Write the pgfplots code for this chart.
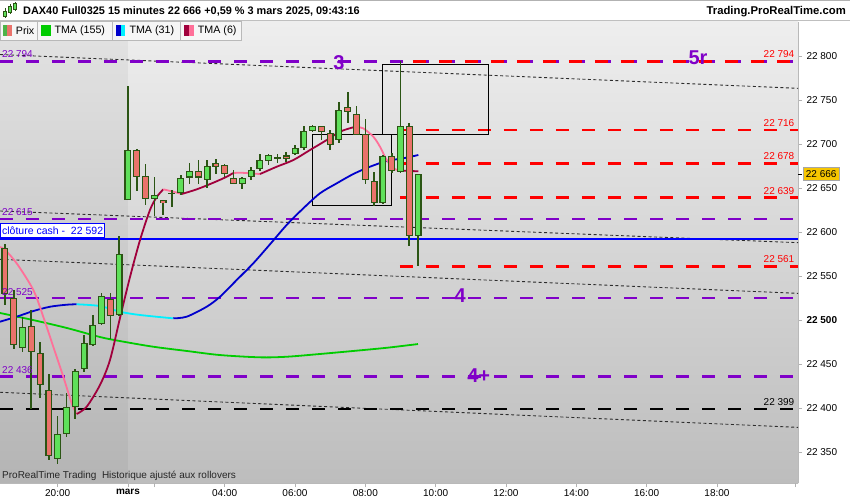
\documentclass[border=0pt]{standalone}
\usepackage{fontspec}
\setmainfont{Liberation Sans}
\usepackage{pgfplots}
\pgfplotsset{compat=1.18}
\usepackage{pgfplotstable}

\definecolor{bgtop}{HTML}{EEEEEE}
\definecolor{bgbot}{HTML}{BDBDBD}
\definecolor{cgreen}{HTML}{5FE05A}
\definecolor{cred}{HTML}{EA736B}
\definecolor{cedge}{HTML}{2B5514}
\definecolor{lvlpurple}{HTML}{8000C8}
\definecolor{tmagreen}{HTML}{00CC00}
\definecolor{tmablue}{HTML}{0000CC}
\definecolor{tmacyan}{HTML}{00F0FF}
\definecolor{tmacrim}{HTML}{A0003C}
\definecolor{tmapink}{HTML}{FF7099}
\definecolor{pricebox}{HTML}{F7C600}

% 15 min candles, x = candle index (0 = first candle of 3 March, negatives = 28 Feb)
\pgfplotstableread{
x   o     h     l     c
-12 22468 22504 22464 22492
-8  22342 22391 22337 22371
-7  22371 22417 22367 22401
-6  22401 22445 22388 22442
-5  22444 22483 22441 22474
-4  22472 22506 22470 22494
-3  22496 22531 22494 22527
-1  22506 22596 22505 22575
0   22636 22766 22636 22693
3   22637 22663 22618 22642
5   22643 22648 22629 22645
6   22644 22665 22642 22661
7   22662 22678 22655 22670
9   22659 22682 22650 22675
13  22655 22663 22649 22662
14  22663 22674 22659 22671
15  22672 22689 22670 22682
16  22681 22689 22676 22688
17  22684 22689 22679 22685
19  22689 22699 22688 22696
20  22696 22720 22693 22715
21  22715 22722 22714 22721
24  22705 22748 22701 22739
29  22633 22688 22632 22687
31  22668 22794 22667 22720
33  22595 22666 22561 22666
}\upcandles

\pgfplotstableread{
x   o     h     l     c
-14 22582 22586 22517 22530
-13 22525 22534 22467 22472
-11 22493 22511 22399 22464
-10 22463 22475 22411 22426
-9  22421 22439 22341 22345
-2  22524 22531 22478 22505
1   22693 22694 22647 22662
2   22664 22677 22631 22638
4   22636 22636 22619 22633
8   22670 22682 22655 22662
10  22678 22683 22666 22674
11  22676 22677 22663 22666
12  22662 22671 22655 22655
18  22687 22691 22680 22683
22  22720 22721 22705 22714
23  22713 22716 22693 22699
25  22742 22759 22724 22736
26  22734 22743 22710 22710
27  22712 22728 22655 22659
28  22658 22668 22630 22633
30  22686 22690 22667 22669
32  22720 22724 22584 22595
}\downcandles

\pgfplotsset{
  wick/.style={draw=none, mark=none, forget plot,
    error bars/.cd, y dir=both, y explicit, error mark=none,
    error bar style={cedge, line width=1.6pt}},
  body/.style={draw=none, mark=none, forget plot,
    error bars/.cd, y dir=both, y explicit, error mark=none,
    error bar style={#1}},
  lvl/.style={forget plot, line width=2.6pt, dash pattern=on 13pt off 13pt},
  trend/.style={forget plot, line width=0.9pt, gray!35!black, dash pattern=on 3pt off 2.5pt},
}

\begin{document}
\begin{tikzpicture}
\useasboundingbox (0pt,0pt) rectangle (850pt,500pt);
\fill[white] (0pt,0pt) rectangle (850pt,500pt);
\begin{axis}[
  at={(0pt,17pt)}, anchor=south west,
  scale only axis, width=798pt, height=461.3pt,
  xmin=-14.56, xmax=76.22, ymin=22314.8, ymax=22839.0,
  axis background/.style={shade, top color=bgtop, bottom color=bgbot},
  axis x line*=bottom, axis y line*=right,
  axis line style={gray!55, line width=0.8pt},
  tick align=outside, major tick length=4pt,
  tick style={gray!60, line width=0.8pt},
  ytick={22350,22400,22450,22500,22550,22600,22650,22700,22750,22800},
  yticklabels={22 350,22 400,22 450,\textbf{22 500},22 550,22 600,22 650,22 700,22 750,22 800},
  yticklabel style={font=\fontsize{10}{12}\selectfont, xshift=1pt},
  xtick={-8,0,11,19,27,35,43,51,59,67},
  xticklabels={20:00,\textbf{mars},04:00,06:00,08:00,10:00,12:00,14:00,16:00,18:00},
  xticklabel style={font=\fontsize{10}{12}\selectfont, yshift=1pt},
  extra x ticks={3,75.9}, extra x tick labels={},
  clip mode=individual,
]
% previous session shading
\addplot[forget plot, draw=none, fill=black, fill opacity=0.045]
  coordinates {(-14.56,22314.8) (0,22314.8) (0,22839.0) (-14.56,22839.0)} --cycle;

% trend lines
\addplot[trend] coordinates {(-14.56,22801.7) (76.22,22763.3)};
\addplot[trend] coordinates {(-14.56,22623.9) (76.22,22587.9)};
\addplot[trend] coordinates {(-14.56,22569.0) (76.22,22530.3)};
\addplot[trend] coordinates {(-14.56,22417.9) (76.22,22378.0)};

% horizontal levels
\addplot[lvl, lvlpurple] coordinates {(-14.56,22794) (76.22,22794)};
\addplot[lvl, red, dash phase=13pt] coordinates {(30.94,22794) (76.22,22794)};
\addplot[lvl, red] coordinates {(30.94,22716) (76.22,22716)};
\addplot[lvl, red] coordinates {(30.94,22678) (76.22,22678)};
\addplot[lvl, red] coordinates {(30.94,22639) (76.22,22639)};
\addplot[lvl, red] coordinates {(30.94,22561) (76.22,22561)};
\addplot[lvl, lvlpurple] coordinates {(-14.56,22615) (76.22,22615)};
\addplot[lvl, lvlpurple] coordinates {(-14.56,22525) (76.22,22525)};
\addplot[lvl, lvlpurple] coordinates {(-14.56,22436) (76.22,22436)};
\addplot[lvl, black] coordinates {(-14.56,22399) (76.22,22399)};
\addplot[forget plot, blue, line width=1.6pt] coordinates {(-14.56,22592) (76.22,22592)};

% boxes
\addplot[forget plot, black, line width=0.8pt]
  coordinates {(28.93,22790.9) (40.96,22790.9) (40.96,22711.4) (28.93,22711.4) (28.93,22790.9)};
\addplot[forget plot, black, line width=0.8pt]
  coordinates {(20.97,22711.0) (30.0,22711.0) (30.0,22630.3) (20.97,22630.3) (20.97,22711.0)};

% TMA (155)
\addplot[forget plot, tmagreen, line width=1.8pt, smooth] coordinates {
(-14.56,22508.0)(-10.81,22500.0)(-6.94,22490.9)(-3.19,22480.7)(-0.91,22476.1)(2.84,22469.7)
(6.71,22464.8)(10.47,22460.2)(15.02,22457.6)(18.09,22458.3)(21.84,22461.4)(25.6,22464.8)
(29.47,22468.5)(32.99,22472.7)};

% TMA (31)
\addplot[forget plot, tmablue, line width=1.8pt, smooth] coordinates {
(-14.56,22498.1)(-12.66,22503.8)(-10.77,22510.2)(-8.87,22515.1)(-6.97,22517.4)(-5.84,22517.9)};
\addplot[forget plot, tmacyan, line width=1.8pt, smooth] coordinates {
(-5.84,22517.9)(-3.19,22515.9)(-0.91,22509.4)(1.37,22505.7)(5.15,22501.9)};
\addplot[forget plot, tmablue, line width=1.8pt, smooth] coordinates {
(5.15,22501.9)(6.68,22503.8)(8.95,22515.1)(10.47,22526.5)(12.37,22545.5)(14.25,22564.4)
(16.15,22586.0)(18.05,22608.0)(19.94,22626.9)(21.84,22644.0)(23.74,22655.3)(25.63,22665.9)
(27.53,22674.2)(29.43,22680.7)(31.32,22683.8)(33.03,22687.5)};

% TMA (6)
\addplot[forget plot, tmapink, line width=1.8pt, smooth] coordinates {
(-14.56,22583.0)(-13.99,22579.6)(-12.66,22564.4)(-10.77,22534.1)(-9.64,22503.8)(-8.5,22469.7)
(-7.36,22435.6)(-6.4,22405.3)(-5.84,22393.2)};
\addplot[forget plot, tmacrim, line width=1.8pt, smooth] coordinates {
(-5.84,22393.2)(-4.7,22401.5)(-3.19,22426.1)(-2.05,22454.5)(-0.91,22502.3)(0.23,22548.9)
(1.37,22590.9)(2.5,22625.0)(3.27,22639.8)(4.02,22648.5)};
\addplot[forget plot, tmapink, line width=1.8pt, smooth] coordinates {
(4.02,22648.5)(5.15,22645.8)(6.11,22643.2)};
\addplot[forget plot, tmacrim, line width=1.8pt, smooth] coordinates {
(6.11,22643.2)(7.82,22648.5)(9.7,22656.0)(11.23,22662.8)(11.95,22667.0)};
\addplot[forget plot, tmapink, line width=1.8pt, smooth] coordinates {
(11.95,22667.0)(12.74,22667.4)(13.88,22666.7)(15.02,22665.9)};
\addplot[forget plot, tmacrim, line width=1.8pt, smooth] coordinates {
(15.02,22665.9)(16.92,22674.2)(18.81,22681.8)(20.71,22693.2)(22.6,22704.5)(24.12,22714.0)
(25.63,22719.0)(26.05,22719.3)};
\addplot[forget plot, tmapink, line width=1.8pt, smooth] coordinates {
(26.05,22719.3)(26.77,22717.8)(27.91,22708.3)(28.67,22696.9)(29.43,22681.8)(30.18,22672.4)
(30.72,22670.5)};
\addplot[forget plot, tmacrim, line width=1.8pt, smooth] coordinates {
(30.72,22670.5)(31.32,22669.7)(33.03,22669.0)};

% candles: wicks, then body outline, then body fill
\addplot[wick] table[x=x, y expr={(\thisrow{h}+\thisrow{l})/2}, y error expr={(\thisrow{h}-\thisrow{l})/2}] {\upcandles};
\addplot[wick] table[x=x, y expr={(\thisrow{h}+\thisrow{l})/2}, y error expr={(\thisrow{h}-\thisrow{l})/2}] {\downcandles};
\addplot[body={cedge, line width=7pt}] table[x=x, y expr={(\thisrow{o}+\thisrow{c})/2}, y error expr={max(abs(\thisrow{c}-\thisrow{o})/2,0.8)}] {\upcandles};
\addplot[body={cedge, line width=7pt}] table[x=x, y expr={(\thisrow{o}+\thisrow{c})/2}, y error expr={max(abs(\thisrow{c}-\thisrow{o})/2,0.8)}] {\downcandles};
\addplot[body={cgreen, line width=4.6pt}] table[x=x, y expr={(\thisrow{o}+\thisrow{c})/2}, y error expr={max(abs(\thisrow{c}-\thisrow{o})/2-1.2,0)}] {\upcandles};
\addplot[body={cred, line width=4.6pt}] table[x=x, y expr={(\thisrow{o}+\thisrow{c})/2}, y error expr={max(abs(\thisrow{c}-\thisrow{o})/2-1.2,0)}] {\downcandles};

% level labels
\begin{scope}[every node/.style={font=\fontsize{10}{12}\selectfont, inner sep=0pt}]
\node[lvlpurple, anchor=base west] at ([xshift=2pt,yshift=4pt]axis cs:-14.56,22794) {22 794};
\node[lvlpurple, anchor=base west] at ([xshift=2pt,yshift=3pt]axis cs:-14.56,22615) {22 615};
\node[lvlpurple, anchor=base west] at ([xshift=2pt,yshift=3pt]axis cs:-14.56,22525) {22 525};
\node[lvlpurple, anchor=base west] at ([xshift=2pt,yshift=3pt]axis cs:-14.56,22436) {22 436};
\node[red, anchor=base east] at ([xshift=-3.5pt,yshift=3.5pt]axis cs:76.22,22794) {22 794};
\node[red, anchor=base east] at ([xshift=-3.5pt,yshift=3.5pt]axis cs:76.22,22716) {22 716};
\node[red, anchor=base east] at ([xshift=-3.5pt,yshift=3.5pt]axis cs:76.22,22678) {22 678};
\node[red, anchor=base east] at ([xshift=-3.5pt,yshift=3.5pt]axis cs:76.22,22639) {22 639};
\node[red, anchor=base east] at ([xshift=-3.5pt,yshift=3.5pt]axis cs:76.22,22561) {22 561};
\node[black, anchor=base east] at ([xshift=-3.5pt,yshift=3.5pt]axis cs:76.22,22399) {22 399};
\node[black!85, anchor=south west] at ([xshift=2pt,yshift=2pt]rel axis cs:0,0) {ProRealTime Trading\ \ Historique ajusté aux rollovers};
\end{scope}

\begin{scope}[every node/.style={font=\fontsize{20}{20}\selectfont\bfseries, text=lvlpurple, inner sep=0pt, anchor=center}]
\node at (axis cs:24.0,22792.6) {3};
\node at (axis cs:64.85,22798.3) {5r};
\node at (axis cs:37.8,22527.6) {4};
\node at (axis cs:39.9,22437.0) {4+};
\end{scope}

\node[anchor=south west, draw=blue, line width=1.1pt, fill=white, text=blue,
  font=\fontsize{10.5}{12}\selectfont, inner sep=1.6pt, minimum height=14pt]
  at ([yshift=0.8pt]axis cs:-14.56,22592) {clôture cash -\ \ 22 592};

% current price
\draw[black, line width=0.8pt] (axis cs:76.22,22666) -- ++(4pt,0pt);
\node[anchor=west, fill=pricebox, draw=gray!70, line width=0.6pt, text=black,
  font=\fontsize{10}{12}\selectfont, inner sep=2.6pt] at ([xshift=5pt]axis cs:76.22,22666) {22 666};
\end{axis}

\begin{scope}[x=1pt,y=1pt]
% header
\fill[white] (0,479) rectangle (850,500);
\draw[gray!60, line width=0.6pt] (0,499.6) -- (850,499.6);
\draw[gray!50, line width=0.8pt] (0,479.3) -- (850,479.3);
\node[anchor=base west, font=\fontsize{10.9}{12}\selectfont\bfseries, inner sep=0pt] at (23,485.3)
  {DAX40 Full0325 15 minutes 22 666 +0,59 \% 3 mars 2025, 09:43:16};
\node[anchor=base east, font=\fontsize{11.3}{12}\selectfont\bfseries, inner sep=0pt] at (846,485.3)
  {Trading.ProRealTime.com};
% small candlestick icon
\draw[cedge, line width=0.6pt] (5,482) -- (5,492) (10,486) -- (10,496) (15,489) -- (15,498);
\filldraw[fill=cgreen, draw=cedge, line width=0.5pt] (3.5,484) rectangle (6.5,489);
\filldraw[fill=cgreen, draw=cedge, line width=0.5pt] (8.5,488) rectangle (11.5,494);
\filldraw[fill=cgreen, draw=cedge, line width=0.5pt] (13.5,491) rectangle (16.5,496.5);

% legend row
\begin{scope}[font=\fontsize{10.7}{12}\selectfont]
\filldraw[fill=gray!7, draw=gray!55, line width=0.6pt] (0,460) rectangle (37.3,478.3);
\filldraw[fill=gray!7, draw=gray!55, line width=0.6pt] (37.3,460) rectangle (112.7,478.3);
\filldraw[fill=gray!7, draw=gray!55, line width=0.6pt] (112.7,460) rectangle (180.7,478.3);
\filldraw[fill=gray!7, draw=gray!55, line width=0.6pt] (180.7,460) rectangle (241.7,478.3);
\fill[cgreen!80!black] (2.7,464.3) rectangle (7.2,475);
\fill[cred] (7.2,464.3) rectangle (11.7,475);
\node[anchor=west, inner sep=0pt] at (15.7,469.3) {Prix};
\fill[tmagreen] (41,464.3) rectangle (50.7,475);
\node[anchor=west, inner sep=0pt] at (54.3,469.3) {TMA (155)};
\fill[tmablue] (115.7,464.3) rectangle (120.5,475);
\fill[tmacyan] (120.5,464.3) rectangle (125.3,475);
\node[anchor=west, inner sep=0pt] at (129.3,469.3) {TMA (31)};
\fill[tmacrim] (184,464.3) rectangle (188.8,475);
\fill[tmapink] (188.8,464.3) rectangle (193.7,475);
\node[anchor=west, inner sep=0pt] at (197.7,469.3) {TMA (6)};
\end{scope}
\end{scope}
\end{tikzpicture}
\end{document}
